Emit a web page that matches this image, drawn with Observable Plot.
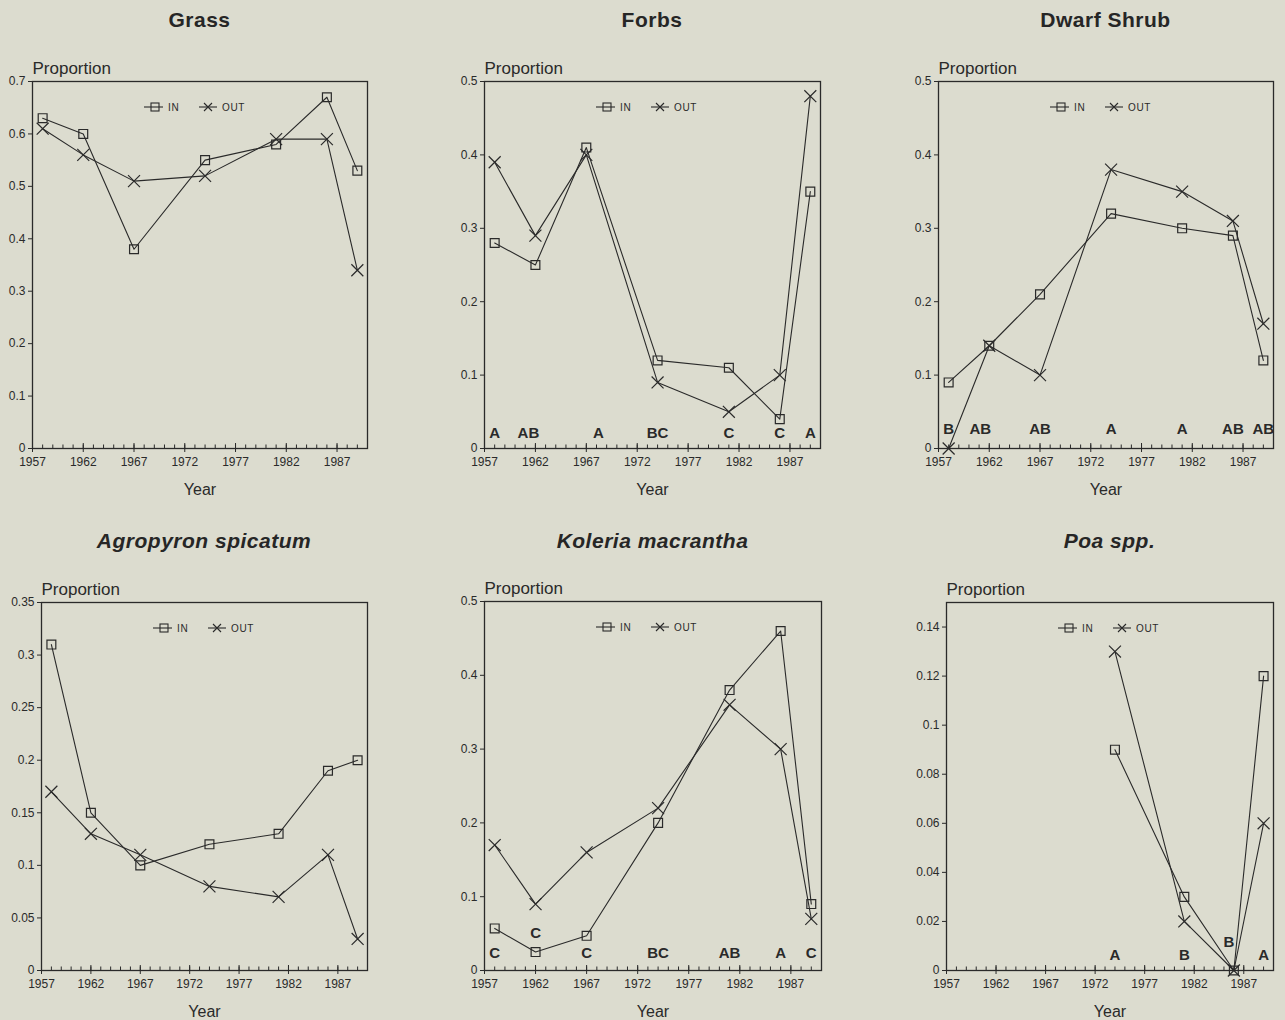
<!DOCTYPE html>
<html>
<head>
<meta charset="utf-8">
<script src="https://cdn.jsdelivr.net/npm/d3@7"></script>
<script src="https://cdn.jsdelivr.net/npm/@observablehq/plot@0.6"></script>
<style>
  html, body { margin: 0; padding: 0; background: #dcdccf; }
  body { position: relative; width: 1285px; height: 1020px; overflow: hidden;
         font-family: "Liberation Sans", Arial, Helvetica, sans-serif; color: #262626; }
  .title { position: absolute; width: 400px; text-align: center; font-weight: bold;
           font-size: 21px; line-height: 21px; letter-spacing: 0.5px; color: #262626; }
  .title.it { font-style: italic; }
  .panel { position: absolute; }
  .panel svg { max-width: none !important; }
  .legend { position: absolute; overflow: visible; }
</style>
</head>
<body>
<script>
// ---------- data ----------
const years = [1958, 1962, 1967, 1974, 1981, 1986, 1989];
const majorYears = [1957, 1962, 1967, 1972, 1977, 1982, 1987];

const grassIn  = [0.63, 0.60, 0.38, 0.55, 0.58, 0.67, 0.53];
const grassOut = [0.61, 0.56, 0.51, 0.52, 0.59, 0.59, 0.34];

const forbsIn  = [0.28, 0.25, 0.41, 0.12, 0.11, 0.04, 0.35];
const forbsOut = [0.39, 0.29, 0.40, 0.09, 0.05, 0.10, 0.48];
const forbsLetters = ["A", "AB", "A", "BC", "C", "C", "A"];

const shrubIn  = [0.09, 0.14, 0.21, 0.32, 0.30, 0.29, 0.12];
const shrubOut = [0.00, 0.14, 0.10, 0.38, 0.35, 0.31, 0.17];
const shrubLetters = ["B", "AB", "AB", "A", "A", "AB", "AB"];

const agroIn  = [0.31, 0.15, 0.10, 0.12, 0.13, 0.19, 0.20];
const agroOut = [0.17, 0.13, 0.11, 0.08, 0.07, 0.11, 0.03];

const kolIn  = [0.057, 0.025, 0.047, 0.20, 0.38, 0.46, 0.09];
const kolOut = [0.17, 0.09, 0.16, 0.22, 0.36, 0.30, 0.07];
const kolLetters = ["C", "C", "C", "BC", "AB", "A", "C"];

const poaIn  = [null, null, null, 0.09, 0.03, 0.00, 0.12];
const poaOut = [null, null, null, 0.13, 0.02, 0.00, 0.06];
const poaLetters = ["", "", "", "A", "B", "B", "A"];

const ticks07  = [0, 0.1, 0.2, 0.3, 0.4, 0.5, 0.6, 0.7];
const ticks05  = [0, 0.1, 0.2, 0.3, 0.4, 0.5];
const ticks035 = [0, 0.05, 0.1, 0.15, 0.2, 0.25, 0.3, 0.35];
const ticks014 = [0, 0.02, 0.04, 0.06, 0.08, 0.1, 0.12, 0.14];

// ---------- layout / style ----------
const ink = "#2a2a2a";
const font = "'Liberation Sans', Arial, Helvetica, sans-serif";
const panels = [
  {title: "Grass", it: false, inV: grassIn, outV: grassOut, letters: null, yMax: 0.7, ticks: ticks07,
   L: 32, R: 367, T: 81, B: 448, titleTop: 9, letterDy: -15, nudge: {}},
  {title: "Forbs", it: false, inV: forbsIn, outV: forbsOut, letters: forbsLetters, yMax: 0.5, ticks: ticks05,
   L: 484, R: 820, T: 81, B: 448, titleTop: 9, letterDy: -15, nudge: {1: [-7, 0], 2: [12, 0]}},
  {title: "Dwarf Shrub", it: false, inV: shrubIn, outV: shrubOut, letters: shrubLetters, yMax: 0.5, ticks: ticks05,
   L: 938, R: 1273, T: 81, B: 448, titleTop: 9, letterDy: -19, nudge: {1: [-9, 0]}},
  {title: "Agropyron spicatum", it: true, inV: agroIn, outV: agroOut, letters: null, yMax: 0.35, ticks: ticks035,
   L: 41, R: 367, T: 602, B: 970, titleTop: 530, letterDy: -15, nudge: {}},
  {title: "Koleria macrantha", it: true, inV: kolIn, outV: kolOut, letters: kolLetters, yMax: 0.5, ticks: ticks05,
   L: 484, R: 821, T: 601, B: 970, titleTop: 530, letterDy: -17, nudge: {1: [0, -20]}},
  {title: "Poa spp.", it: true, inV: poaIn, outV: poaOut, letters: poaLetters, yMax: 0.15, ticks: ticks014,
   L: 946, R: 1273, T: 602, B: 970, titleTop: 530, letterDy: -15, nudge: {5: [-5, -13]}}
];

const mL = 40, mR = 14, mT = 40, mB = 55;
const fmtY = d => String(+d.toFixed(3));

for (const p of panels) {
  const rows = years.map((yr, i) => ({year: yr, inV: p.inV[i], outV: p.outV[i]}));
  const width = p.R - p.L + mL + mR;
  const height = p.B - p.T + mT + mB;

  const letterMarks = (p.letters || []).map((txt, i) => {
    const nd = p.nudge[i] || [0, 0];
    return Plot.text([i], {
      x: i => years[i], text: () => txt, frameAnchor: "bottom",
      dx: nd[0], dy: p.letterDy + nd[1], lineAnchor: "middle",
      fontWeight: "bold", fontSize: 15, fill: ink
    });
  });

  const chart = Plot.plot({
    width, height,
    marginLeft: mL, marginRight: mR, marginTop: mT, marginBottom: mB,
    style: {background: "transparent", fontFamily: font, fontSize: "12px", color: ink, overflow: "visible", maxWidth: "none"},
    x: {type: "linear", domain: [1957, 1990]},
    y: {domain: [0, p.yMax]},
    marks: [
      Plot.frame({stroke: ink, strokeWidth: 1.3}),
      Plot.axisY({ticks: p.ticks, tickSize: 4, tickPadding: 3, tickFormat: fmtY, label: null, fontSize: 12}),
      Plot.axisX({ticks: d3.range(1957, 1991), tickSize: -3.5, tickFormat: () => "", label: null}),
      Plot.axisX({ticks: majorYears, tickSize: -5, tickFormat: () => "", label: null}),
      Plot.axisX({ticks: majorYears, tickSize: 4, tickPadding: 5, tickFormat: d => String(d), label: null, fontSize: 12}),
      Plot.text(["Proportion"], {frameAnchor: "top-left", textAnchor: "start", lineAnchor: "middle",
        dy: -13, fontSize: 17, fill: ink}),
      Plot.text(["Year"], {frameAnchor: "bottom", lineAnchor: "middle", dy: 41, fontSize: 16, fill: ink}),
      ...letterMarks,
      Plot.lineY(rows, {x: "year", y: "inV", stroke: ink, strokeWidth: 1.1}),
      Plot.lineY(rows, {x: "year", y: "outV", stroke: ink, strokeWidth: 1.1}),
      Plot.dot(rows, {x: "year", y: "inV", symbol: "square", r: 5, stroke: ink, fill: "none", strokeWidth: 1.2}),
      Plot.dot(rows, {x: "year", y: "outV", symbol: "times", r: 5.5, stroke: ink, strokeWidth: 1.2})
    ]
  });
  const holder = document.createElement("div");
  holder.className = "panel";
  holder.style.left = (p.L - mL) + "px";
  holder.style.top = (p.T - mT) + "px";
  holder.style.width = width + "px";
  holder.style.height = height + "px";
  holder.appendChild(chart);
  document.body.appendChild(holder);

  // title
  const t = document.createElement("div");
  t.className = "title" + (p.it ? " it" : "");
  t.textContent = p.title;
  t.style.left = ((p.L + p.R) / 2 - 200) + "px";
  t.style.top = p.titleTop + "px";
  document.body.appendChild(t);

  // legend
  const lg = d3.select(document.body).append("svg")
    .attr("class", "legend").attr("width", 150).attr("height", 18)
    .style("left", (p.L + 108) + "px").style("top", (p.T + 17) + "px");
  const g = lg.append("g").attr("stroke", ink).attr("fill", "none").attr("stroke-width", 1.1);
  g.append("line").attr("x1", 4).attr("x2", 23).attr("y1", 9).attr("y2", 9);
  g.append("rect").attr("x", 11).attr("y", 5).attr("width", 8).attr("height", 8);
  g.append("line").attr("x1", 59).attr("x2", 77).attr("y1", 9).attr("y2", 9);
  g.append("path").attr("d", "M64,5L72,13M64,13L72,5");
  lg.append("text").attr("x", 28).attr("y", 9).attr("dy", "0.35em").attr("fill", ink)
    .style("font-family", font).style("font-size", "10px").style("letter-spacing", "0.6px").text("IN");
  lg.append("text").attr("x", 82).attr("y", 9).attr("dy", "0.35em").attr("fill", ink)
    .style("font-family", font).style("font-size", "10px").style("letter-spacing", "0.6px").text("OUT");
}
</script>
</body>
</html>
